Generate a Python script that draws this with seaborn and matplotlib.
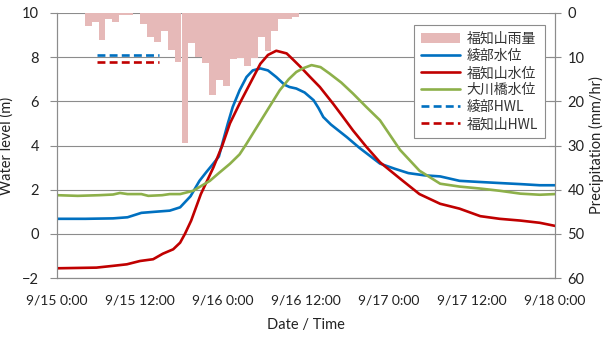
import matplotlib
matplotlib.use("Agg")
import matplotlib.pyplot as plt
from matplotlib.patches import Patch
from matplotlib.lines import Line2D
from matplotlib.ticker import MultipleLocator
import pandas as pd
import seaborn as sns

# Hourly precipitation at Fukuchiyama (hours after 9/15 0:00, bar covers the hour)
rain_hours = list(range(4, 35))
rain_mm = [3, 2, 6, 1.4, 2, 0.5, 0.5, 0, 2.5, 5.5, 6.5, 4, 8.4, 11, 29.5, 6.7,
           10, 11.4, 18.5, 15.2, 16.6, 10.5, 10.3, 12, 10.3, 5.4, 8.6, 4, 1.4, 1.4, 0.8]

# Water levels (m)
ayabe_hours = [0, 4.1, 8.1, 10.2, 12.2, 14.2, 16.3, 17.8, 19.3, 20.6, 21.6, 22.6, 23.4, 24.0,
               24.7, 25.4, 26.4, 27.4, 28.3, 29.4, 30.5, 31.7, 32.9, 33.6, 34.6, 35.8, 37.1,
               37.8, 38.5, 39.6, 41.9, 43.7, 46.7, 48.8, 50.8, 53.1, 55.4, 58.2, 61.0, 64.0,
               67.1, 69.8, 72]
ayabe_level = [0.68, 0.68, 0.7, 0.75, 0.95, 1.0, 1.05, 1.2, 1.7, 2.4, 2.8, 3.18, 3.5, 4.2, 5.0,
               5.74, 6.5, 7.1, 7.4, 7.49, 7.4, 7.1, 6.75, 6.65, 6.58, 6.4, 6.05, 5.7, 5.29, 4.95,
               4.38, 3.9, 3.18, 2.95, 2.75, 2.65, 2.6, 2.4, 2.35, 2.3, 2.25, 2.2, 2.2]

fuku_hours = [0, 5.7, 8.1, 10.1, 12.0, 13.9, 15.3, 16.8, 17.8, 18.5, 19.4, 20.8, 22.6, 23.9,
              25.0, 26.4, 27.4, 28.4, 29.4, 30.5, 31.7, 33.2, 34.1, 35.2, 36.6, 38.0, 39.9,
              41.1, 42.8, 44.7, 46.7, 49.6, 52.4, 55.4, 58.2, 61.2, 64.0, 67.0, 69.8, 72]
fuku_level = [-1.56, -1.53, -1.45, -1.38, -1.23, -1.15, -0.9, -0.7, -0.4, 0.0, 0.6, 1.8, 3.0,
              4.0, 5.0, 5.9, 6.5, 7.1, 7.7, 8.1, 8.29, 8.17, 7.9, 7.56, 7.1, 6.65, 5.9, 5.4,
              4.68, 3.95, 3.24, 2.5, 1.8, 1.36, 1.14, 0.8, 0.68, 0.6, 0.5, 0.36]

okawa_hours = [0, 3, 6.1, 8.1, 9.1, 10.2, 12.2, 13.2, 15.2, 16.3, 17.8, 19.7, 22.1, 23.4, 25.0,
               26.4, 27.4, 29.8, 32.2, 33.5, 34.6, 35.6, 36.8, 38.1, 39.4, 41.1, 42.8, 44.7,
               46.7, 49.6, 52.4, 55.4, 58.2, 61.2, 64.0, 67.0, 69.8, 72]
okawa_level = [1.75, 1.72, 1.75, 1.78, 1.85, 1.8, 1.8, 1.72, 1.75, 1.8, 1.8, 1.95, 2.4, 2.75,
               3.17, 3.6, 4.08, 5.29, 6.5, 7.0, 7.33, 7.5, 7.64, 7.55, 7.26, 6.85, 6.35, 5.75,
               5.14, 3.8, 2.86, 2.27, 2.14, 2.05, 1.95, 1.82, 1.77, 1.8]

# High water levels, shown as short reference segments
hwl_hours = [5.8, 14.8]
ayabe_hwl = 8.1
fuku_hwl = 7.77

tick_hours = [0, 12, 24, 36, 48, 60, 72]
tick_labels = ["9/15 0:00", "9/15 12:00", "9/16 0:00", "9/16 12:00",
               "9/17 0:00", "9/17 12:00", "9/18 0:00"]

names = ["福知山雨量", "綾部水位", "福知山水位", "大川橋水位", "綾部HWL", "福知山HWL"]
c_rain, c_blue, c_red, c_green = "#E6B9B8", "#0070C0", "#C00000", "#8DB04A"
c_axis, c_text = "#8c8c8c", "#222222"

sns.set_theme(style="white")
plt.rcParams["font.family"] = ["Lato", "Noto Sans CJK JP", "DejaVu Sans"]

fig = plt.figure(figsize=(6.09, 3.38), dpi=100)
ax = fig.add_axes([57 / 609, 1 - 278 / 338, 498 / 609, 265 / 338])
ax2 = ax.twinx()

# Precipitation axis sits behind the water-level axis
ax.set_zorder(ax2.get_zorder() + 1)
ax.patch.set_visible(False)

ax2.bar(rain_hours, rain_mm, width=1.0, align="edge", color=c_rain, linewidth=0, zorder=2)
ax2.set_ylim(60, 0)
ax2.yaxis.set_major_locator(MultipleLocator(10))
ax2.grid(axis="y", color=c_axis, linewidth=0.8, zorder=0)
ax2.set_axisbelow(True)

series = [
    (ayabe_hours, ayabe_level, c_blue),
    (fuku_hours, fuku_level, c_red),
    (okawa_hours, okawa_level, c_green),
]
for hrs, lvl, col in series:
    df = pd.DataFrame({"hour": hrs, "level": lvl})
    sns.lineplot(data=df, x="hour", y="level", ax=ax, color=col, linewidth=1.9,
                 estimator=None, sort=True)

ax.plot(hwl_hours, [ayabe_hwl] * 2, color=c_blue, linewidth=1.9, dashes=(3, 1.6))
ax.plot(hwl_hours, [fuku_hwl] * 2, color=c_red, linewidth=1.9, dashes=(3, 1.6))

ax.set_xlim(0, 72)
ax.set_ylim(-2, 10)
ax.yaxis.set_major_locator(MultipleLocator(2))
ax.set_xticks(tick_hours)
ax.set_xticklabels(tick_labels)
ax.xaxis.set_minor_locator(MultipleLocator(3))

for a in (ax, ax2):
    for s in a.spines.values():
        s.set_color(c_axis)
        s.set_linewidth(0.8)
    a.spines["top"].set_visible(False)

ax.tick_params(axis="x", which="major", direction="inout", length=8, width=0.8,
               color=c_axis, labelsize=10, pad=8, labelcolor=c_text)
ax.tick_params(axis="x", which="minor", direction="in", length=3, width=0.8, color=c_axis)
ax.tick_params(axis="y", direction="out", length=5, width=0.8, color=c_axis,
               labelsize=10.5, pad=8, labelcolor=c_text)
ax2.tick_params(axis="y", direction="inout", length=8, width=0.8, color=c_axis,
                labelsize=10.5, pad=5, labelcolor=c_text)

ax.set_xlabel("Date / Time", fontsize=10.5, labelpad=8, color=c_text)
ax.set_ylabel("Water level (m)", fontsize=10.5, labelpad=6, color=c_text)
ax2.set_ylabel("Precipitation (mm/hr)", fontsize=10.5, labelpad=3, color=c_text)

handles = [
    Patch(facecolor=c_rain, edgecolor="none"),
    Line2D([], [], color=c_blue, linewidth=1.9),
    Line2D([], [], color=c_red, linewidth=1.9),
    Line2D([], [], color=c_green, linewidth=1.9),
    Line2D([], [], color=c_blue, linewidth=1.9, dashes=(3, 1.6)),
    Line2D([], [], color=c_red, linewidth=1.9, dashes=(3, 1.6)),
]
leg = ax.legend(handles, names, loc="upper right", bbox_to_anchor=(0.988, 0.97),
                frameon=True, fancybox=False, edgecolor=c_axis, framealpha=1,
                prop={"family": ["Noto Sans CJK JP", "DejaVu Sans"], "size": 10},
                handlelength=2.8, handletextpad=0.5, labelspacing=0.22, borderpad=0.5,
                borderaxespad=0.3)
leg.get_frame().set_linewidth(0.8)
for t in leg.get_texts():
    t.set_color("#333333")

fig.savefig("out.png", dpi=100)
